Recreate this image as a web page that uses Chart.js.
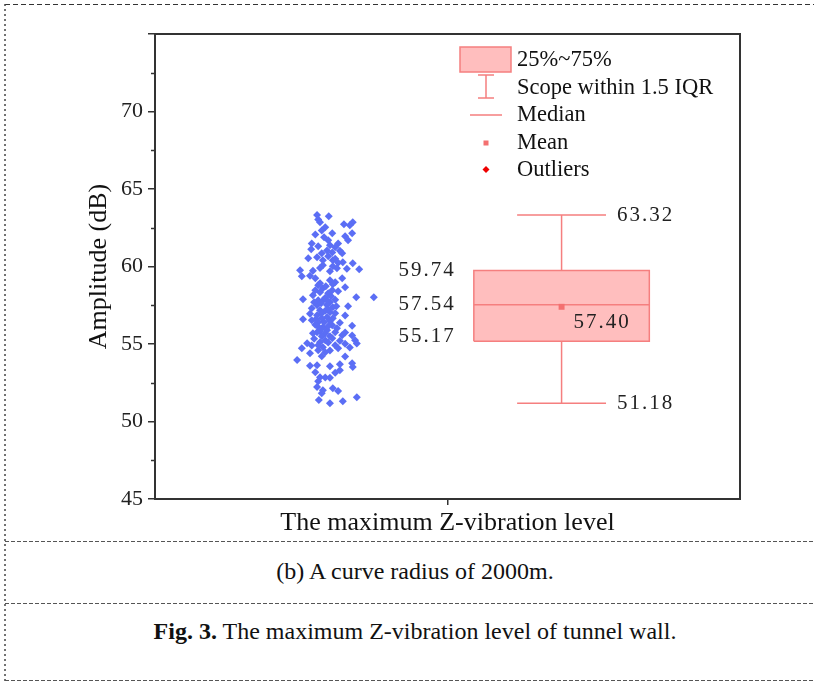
<!DOCTYPE html>
<html>
<head>
<meta charset="utf-8">
<script src="https://cdn.jsdelivr.net/npm/chart.js@4"></script>
<style>
  body { margin: 0; background: #fff; width: 814px; height: 682px; overflow: hidden; position: relative; }
  #chart { position: absolute; left: 0; top: 0; }
  #frame { position: absolute; left: 0; top: 0; }
  .cap { position: absolute; left: 0; width: 830px; text-align: center; font-family: 'Liberation Serif', 'Times New Roman', serif; font-size: 24px; line-height: 28px; color: #111; }
</style>
</head>
<body>
<svg id="frame" width="814" height="682">
  <line x1="5" y1="4.5" x2="814" y2="4.5" stroke="#333" stroke-width="1" stroke-dasharray="5,3"/>
  <line x1="5" y1="4" x2="5" y2="682" stroke="#444" stroke-width="1.5" stroke-dasharray="2,3"/>
  <line x1="5" y1="541.5" x2="814" y2="541.5" stroke="#555" stroke-width="1" stroke-dasharray="4,2"/>
  <line x1="5" y1="603.5" x2="814" y2="603.5" stroke="#555" stroke-width="1" stroke-dasharray="4,2"/>
  <line x1="5" y1="680.5" x2="814" y2="680.5" stroke="#555" stroke-width="1" stroke-dasharray="4,2"/>
</svg>
<canvas id="chart" width="814" height="540"></canvas>
<div class="cap" style="top:557px">(b) A curve radius of 2000m.</div>
<div class="cap" style="top:617px"><b>Fig. 3.</b> The maximum Z-vibration level of tunnel wall.</div>
<script>
// data
const categories = ['The maximum Z-vibration level'];
const yTicks = [45, 50, 55, 60, 65, 70, 75];
const yMinorTicks = [47.5, 52.5, 57.5, 62.5, 67.5, 72.5];

// jittered raw points (x offset, amplitude dB)
const jitterX = [
  -2.23, -2.03, -2.21, -2.18, -1.77, -1.62, -1.67, -2.09, -2.15, -2.26, -1.97, -1.63, -1.75, -1.70, -2.04, -2.11,
  -1.87, -2.32, -2.33, -2.06, -1.97, -1.80, -2.15, -2.21, -1.92, -2.38, -2.23, -2.13, -1.96, -1.79, -1.62, -2.04,
  -2.13, -1.96, -1.89, -1.72, -1.51, -2.52, -2.30, -2.01, -2.49, -2.26, -2.35, -2.01, -1.92, -1.80, -1.96, -2.18,
  -1.75, -2.13, -2.18, -2.04, -2.30, -1.87, -2.47, -1.56, -1.26, -2.09, -1.92, -2.21,
  -2.21, -2.13, -2.01, -2.23, -2.06, -1.96, -1.70, -2.32, -2.18, -2.09, -2.01, -1.92, -2.23, -2.06, -2.15, -2.47,
  -2.32, -2.01, -2.21, -1.97, -2.13, -1.63, -2.26, -1.84, -1.89, -2.06, -2.18, -1.75, -2.35,
  -2.23, -2.09, -1.75, -1.80, -1.63, -2.15, -1.97, -2.18, -2.04, -1.58, -2.40, -1.55, -1.75, -2.49, -2.13, -1.67,
  -2.35, -2.21, -1.92, -1.84, -2.01, -2.28, -2.57, -2.15, -2.32,
  -2.23, -2.01, -1.84, -1.63, -1.84, -1.62, -2.26, -2.18, -2.09, -2.01, -2.21, -2.23, -2.13, -1.96, -1.87, -2.15,
  -2.20, -2.01, -1.79, -1.55,
  -2.16, -2.08, -1.99, -2.28, -2.15, -2.04, -1.90, -2.11, -2.25, -1.96, -2.20, -2.04, -1.92, -2.09, -2.21, -1.87,
  -2.01, -2.30, -2.08, -2.26, -1.97, -1.87, -2.18, -2.01, -1.84, -1.92, -2.09, -1.75, -2.35, -1.92
];
const amplitude = [
  63.32, 63.24, 63.04, 62.85, 62.72, 62.85, 62.66, 62.53, 62.33, 62.07, 62.14, 62.14, 61.95, 61.69, 61.69, 61.88,
  61.49, 61.49, 61.11, 61.04, 60.91, 60.85, 60.85, 61.30, 61.24, 60.53, 60.59, 60.40, 60.40, 60.27, 60.21, 60.66,
  60.08, 60.02, 59.88, 59.85, 59.82, 59.76, 59.72, 59.70, 59.37, 59.24, 59.40, 59.11, 58.98, 59.24, 58.85, 58.92,
  58.66, 58.60, 58.34, 58.27, 58.14, 58.40, 57.89, 58.02, 58.02, 57.98, 57.86, 58.79,
  57.82, 57.80, 57.69, 57.50, 57.52, 57.37, 57.44, 57.31, 57.18, 57.15, 57.05, 56.98, 56.86, 56.73, 56.66, 56.60,
  56.53, 56.50, 56.40, 56.21, 56.08, 56.18, 56.24, 56.37, 56.02, 55.89, 55.82, 56.84, 56.95,
  55.76, 55.70, 55.74, 55.57, 55.55, 55.50, 55.37, 55.12, 55.10, 55.24, 55.05, 55.03, 55.01, 54.73, 54.79, 54.77,
  54.41, 54.60, 54.92, 55.21, 54.58, 55.34, 53.96, 54.21, 54.90,
  53.63, 53.57, 53.70, 53.76, 53.31, 53.51, 53.18, 52.86, 52.84, 52.82, 52.60, 52.22, 52.02, 52.15, 51.96, 51.83,
  51.38, 51.18, 51.31, 51.57,
  57.63, 57.89, 58.08, 57.69, 56.98, 57.24, 57.44, 56.40, 56.60, 56.66, 56.08, 56.15, 55.76, 55.24, 54.92, 54.73,
  55.50, 55.70, 58.72, 58.47, 58.47, 60.25, 59.90, 61.37, 61.02, 60.50, 54.47, 54.19, 53.60, 53.15
];

// box statistics
const whiskers = [51.18, 63.32];
const quartiles = [55.17, 59.74];
const median = 57.54;
const mean = 57.40;

const legendLabels = ['25%~75%', 'Scope within 1.5 IQR', 'Median', 'Mean', 'Outliers'];

// geometry of the box in x units
const boxCenter = 1.95;
const boxHalf = 1.5;
const capHalf = 0.76;

const BOX_FILL = '#ffbebe';
const BOX_LINE = '#f57f7f';
const POINT_COLOR = '#5b6ef5';
const SERIF = "'Liberation Serif', 'Times New Roman', serif";

const pts = jitterX.map(function(x, i) { return { x: x, y: amplitude[i] }; });
const bl = boxCenter - boxHalf, br = boxCenter + boxHalf;

const framePlugin = {
  id: 'frameAndExtras',
  afterDraw(chart) {
    const ctx = chart.ctx;
    const a = chart.chartArea;
    const ys = chart.scales.y, xs = chart.scales.x;
    ctx.save();
    // axis frame
    ctx.strokeStyle = '#333';
    ctx.lineWidth = 2;
    ctx.strokeRect(a.left, a.top, a.right - a.left, a.bottom - a.top);
    // minor ticks
    ctx.lineWidth = 1.5;
    yMinorTicks.forEach(function(v) {
      const py = Math.round(ys.getPixelForValue(v)) + 0.5;
      ctx.beginPath();
      ctx.moveTo(a.left - 4, py);
      ctx.lineTo(a.left, py);
      ctx.stroke();
    });

    // value labels
    ctx.fillStyle = '#222';
    ctx.font = '21px ' + SERIF;
    ctx.letterSpacing = '2px';
    ctx.textBaseline = 'middle';
    ctx.textAlign = 'left';
    const capRight = xs.getPixelForValue(boxCenter + capHalf);
    ctx.fillText(whiskers[1].toFixed(2), capRight + 11, ys.getPixelForValue(whiskers[1]));
    ctx.fillText(whiskers[0].toFixed(2), capRight + 11, ys.getPixelForValue(whiskers[0]));
    ctx.fillText(mean.toFixed(2), xs.getPixelForValue(boxCenter) + 12, ys.getPixelForValue(mean) + 16);
    ctx.textAlign = 'right';
    const boxLeft = xs.getPixelForValue(bl);
    ctx.fillText(quartiles[1].toFixed(2), boxLeft - 18, ys.getPixelForValue(quartiles[1]));
    ctx.fillText(median.toFixed(2), boxLeft - 18, ys.getPixelForValue(median));
    ctx.fillText(quartiles[0].toFixed(2), boxLeft - 18, ys.getPixelForValue(quartiles[0]) - 5);
    ctx.letterSpacing = '0px';

    // legend
    const lx = a.left + 305, ly = a.top;
    ctx.fillStyle = BOX_FILL;
    ctx.strokeStyle = BOX_LINE;
    ctx.lineWidth = 1.5;
    ctx.fillRect(lx, ly + 13, 51, 25);
    ctx.strokeRect(lx, ly + 13, 51, 25);
    const wx = lx + 26;
    ctx.beginPath();
    ctx.moveTo(wx - 8, ly + 41); ctx.lineTo(wx + 8, ly + 41);
    ctx.moveTo(wx, ly + 41); ctx.lineTo(wx, ly + 64);
    ctx.moveTo(wx - 8, ly + 64); ctx.lineTo(wx + 8, ly + 64);
    ctx.moveTo(lx + 10, ly + 81); ctx.lineTo(lx + 42, ly + 81);
    ctx.stroke();
    ctx.fillStyle = '#f47070';
    ctx.fillRect(wx - 2.5, ly + 106.5, 5, 5);
    ctx.fillStyle = '#ee0000';
    ctx.beginPath();
    ctx.moveTo(wx, ly + 132); ctx.lineTo(wx + 3.5, ly + 135.5);
    ctx.lineTo(wx, ly + 139); ctx.lineTo(wx - 3.5, ly + 135.5);
    ctx.closePath();
    ctx.fill();

    ctx.fillStyle = '#111';
    ctx.font = '22.5px ' + SERIF;
    ctx.textAlign = 'left';
    const rows = [26, 54, 81, 109, 136];
    legendLabels.forEach(function(t, i) {
      ctx.fillText(t, lx + 57, ly + rows[i]);
    });
    ctx.restore();
  }
};

new Chart(document.getElementById('chart'), {
  type: 'scatter',
  data: {
    datasets: [
      {
        // mean marker
        data: [{ x: boxCenter, y: mean }],
        pointStyle: 'rect',
        pointRadius: 4.2,
        backgroundColor: '#f47070',
        borderWidth: 0,
        order: 0
      },
      {
        // median
        data: [{ x: bl, y: median }, { x: br, y: median }],
        showLine: true,
        borderColor: BOX_LINE,
        borderWidth: 1.5,
        pointRadius: 0,
        order: 1
      },
      {
        // box outline
        data: [{ x: bl, y: quartiles[0] }, { x: br, y: quartiles[0] }, { x: br, y: quartiles[1] },
               { x: bl, y: quartiles[1] }, { x: bl, y: quartiles[0] }],
        showLine: true,
        borderColor: BOX_LINE,
        borderWidth: 1.5,
        pointRadius: 0,
        order: 2
      },
      {
        // whiskers and caps
        data: [
          { x: boxCenter - capHalf, y: whiskers[0] }, { x: boxCenter + capHalf, y: whiskers[0] }, { x: boxCenter, y: null },
          { x: boxCenter, y: whiskers[0] }, { x: boxCenter, y: quartiles[0] }, { x: boxCenter, y: null },
          { x: boxCenter, y: quartiles[1] }, { x: boxCenter, y: whiskers[1] }, { x: boxCenter, y: null },
          { x: boxCenter - capHalf, y: whiskers[1] }, { x: boxCenter + capHalf, y: whiskers[1] }
        ],
        showLine: true,
        spanGaps: false,
        borderColor: BOX_LINE,
        borderWidth: 1.5,
        pointRadius: 0,
        order: 3
      },
      {
        // box fill, lower edge
        data: [{ x: bl, y: quartiles[0] }, { x: br, y: quartiles[0] }],
        showLine: true,
        borderWidth: 0,
        pointRadius: 0,
        order: 5
      },
      {
        // box fill, upper edge
        data: [{ x: bl, y: quartiles[1] }, { x: br, y: quartiles[1] }],
        showLine: true,
        fill: '-1',
        backgroundColor: BOX_FILL,
        borderWidth: 0,
        pointRadius: 0,
        order: 4
      },
      {
        // raw points
        data: pts,
        pointStyle: 'rectRot',
        pointRadius: 4,
        backgroundColor: POINT_COLOR,
        borderWidth: 0,
        order: 6
      }
    ]
  },
  options: {
    responsive: false,
    animation: false,
    events: [],
    layout: { padding: { top: 34, right: 74, left: 0, bottom: 0 } },
    plugins: {
      legend: { display: false },
      tooltip: { enabled: false }
    },
    scales: {
      x: {
        type: 'linear',
        min: -5,
        max: 5,
        border: { display: false },
        grid: { drawOnChartArea: false, tickLength: 6, color: '#333', lineWidth: 1.5 },
        afterBuildTicks: function(scale) { scale.ticks = [{ value: 0 }]; },
        afterFit: function(scale) { scale.height = 41; },
        ticks: {
          padding: 3,
          color: '#111',
          font: { family: SERIF, size: 26 },
          callback: function(value, index) { return categories[index]; }
        }
      },
      y: {
        min: 45,
        max: 75,
        border: { display: false },
        grid: { drawOnChartArea: false, tickLength: 7, color: '#333', lineWidth: 1.5 },
        afterBuildTicks: function(scale) { scale.ticks = yTicks.map(function(v) { return { value: v }; }); },
        afterFit: function(scale) { scale.width = 155; },
        ticks: {
          padding: 5,
          color: '#222',
          font: { family: SERIF, size: 22 },
          callback: function(value) { return value === 75 ? '' : value; }
        },
        title: {
          display: true,
          text: 'Amplitude (dB)',
          color: '#111',
          font: { family: SERIF, size: 26 },
          padding: { top: 84, bottom: 0 }
        }
      }
    }
  },
  plugins: [framePlugin]
});
</script>
</body>
</html>
